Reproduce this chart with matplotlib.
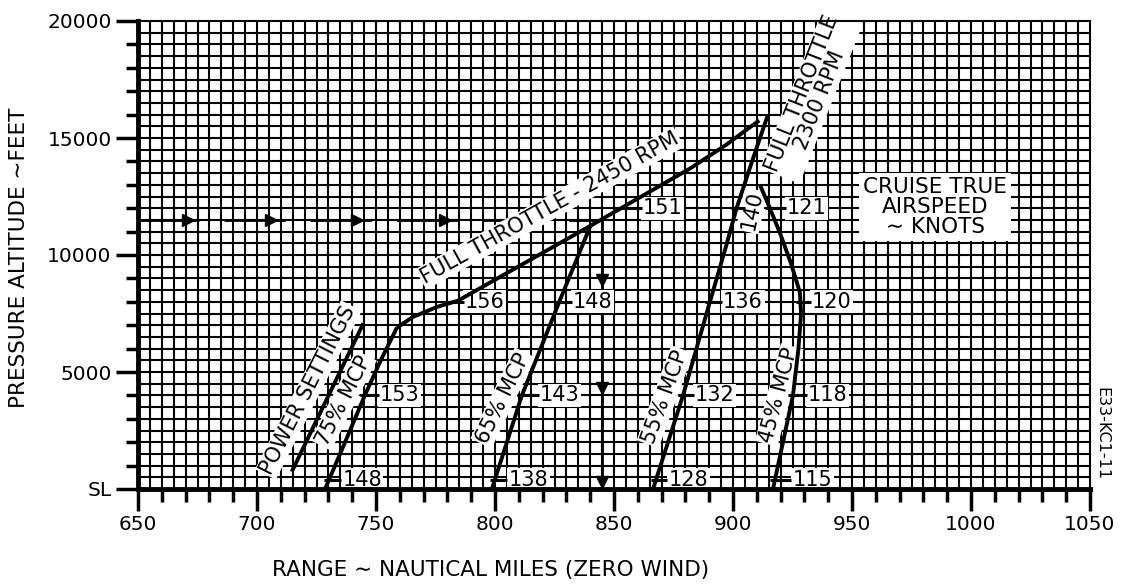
import matplotlib
matplotlib.use("Agg")
import matplotlib.pyplot as plt
import numpy as np

# range (nm) vs pressure altitude (ft)
mcp75_nm = [728.6, 737.0, 745.3, 752.0, 758.8]
mcp75_ft = [0, 2000, 4000, 5500, 6900]
ft2450_nm = [758.8, 765.5, 775.6, 784.5, 841.0, 882.0, 897.0, 911.0]
ft2450_ft = [6900, 7350, 7780, 8050, 11300, 13700, 14700, 15750]
mcp65_nm = [798.7, 811.3, 827.0, 840.5]
mcp65_ft = [0, 4000, 8000, 11350]
mcp55_nm = [866.4, 879.0, 890.3, 896.6, 901.5, 908.0, 914.7]
mcp55_ft = [0, 4000, 8000, 10200, 12000, 14000, 16000]
mcp45_nm = [916.8, 921.0, 925.2, 927.5, 928.6, 928.1, 924.5, 919.7, 915.5, 911.3]
mcp45_ft = [0, 2000, 4000, 6000, 7500, 8400, 9600, 10950, 12000, 13000]
power_nm = [714.6, 744.7]
power_ft = [740, 7080]

# cruise true airspeed marks (knots)
tas_alt = [380, 4000, 8000, 12000]
tas75 = [148, 153, 156, 151]
tas65 = [138, 143, 148]
tas55 = [128, 132, 136]
tas45 = [115, 118, 120, 121]

# example path
ex_nm = [650, 845, 845]
ex_ft = [11500, 11500, 0]
ex_heads_nm = [671, 706, 742, 779]
ex_heads_ft = [8950, 4300, 300]

x_ticks = [650, 700, 750, 800, 850, 900, 950, 1000, 1050]
y_ticks = [0, 5000, 10000, 15000, 20000]
y_labels = ["SL", "5000", "10000", "15000", "20000"]

plt.rcParams["font.family"] = ["DejaVu Sans"]
plt.rcParams["lines.scale_dashes"] = False

fig = plt.figure(figsize=(11.23, 5.88), dpi=100)
ax = fig.add_axes([138 / 1123, 99 / 588, 952 / 1123, 468 / 588])
ax.set_xlim(650, 1050)
ax.set_ylim(0, 20000)

# graph paper
ax.vlines(np.arange(655, 1050, 5), 0, 20000, color="k", lw=1.5, zorder=0.5)
ax.hlines(np.arange(500, 20000, 500), 650, 1050, color="k", lw=1.5, zorder=0.5)

ax.set_xticks(x_ticks)
ax.set_xticks(np.arange(650, 1051, 10), minor=True)
ax.set_yticks(y_ticks)
ax.set_yticklabels(y_labels)
ax.set_yticks(np.arange(0, 20001, 1000), minor=True)
ax.tick_params(which="major", length=16, width=2.5, labelsize=14.5, pad=3)
ax.tick_params(which="minor", length=9, width=2.5)
for s in ["left", "bottom"]:
    ax.spines[s].set_linewidth(3.5)
for s in ["top", "right"]:
    ax.spines[s].set_linewidth(1.5)
for s in ax.spines.values():
    s.set_zorder(8)

box = dict(boxstyle="square,pad=0.08", fc="white", ec="none")
lw = 2.8

# example arrows
ax.plot(ex_nm[:2], ex_ft[:2], color="k", lw=2, dashes=(44, 18), zorder=2)
ax.plot(ex_nm[1:], ex_ft[1:], color="k", lw=2, zorder=2)
ax.plot(ex_heads_nm, [ex_ft[0]] * len(ex_heads_nm), ">", color="k", ms=9, zorder=2)
ax.plot([ex_nm[1]] * len(ex_heads_ft), ex_heads_ft, "v", color="k", ms=9, zorder=2)

for nm, ft in [(mcp75_nm, mcp75_ft), (ft2450_nm, ft2450_ft), (mcp65_nm, mcp65_ft),
               (mcp55_nm, mcp55_ft), (mcp45_nm, mcp45_ft), (power_nm, power_ft)]:
    ax.plot(nm, ft, color="k", lw=lw, solid_capstyle="butt", zorder=6)


def speed_marks(curves, speeds, gaps):
    for (nm, ft), alt, v, gap in zip(curves, tas_alt, speeds, gaps):
        x = np.interp(alt, ft, nm)
        ax.hlines(alt, x - 2, x + gap - 0.5, color="k", lw=2.2, zorder=6)
        ax.text(x + gap, alt, str(v), ha="left", va="center", fontsize=15,
                bbox=box, zorder=5)


c75 = (mcp75_nm, mcp75_ft)
cft = (ft2450_nm, ft2450_ft)
speed_marks([c75, c75, cft, cft], tas75, [5.6, 6.4, 4.5, 9.2])
speed_marks([(mcp65_nm, mcp65_ft)] * 3, tas65, [5.7, 7.6, 5.8])
speed_marks([(mcp55_nm, mcp55_ft)] * 3, tas55, [5.2, 5.0, 5.5])
speed_marks([(mcp45_nm, mcp45_ft)] * 4, tas45, [7.3, 6.3, 4.8, 7.2])

# 140 kt mark written along the 55% line
ax.hlines(12000, 899, 905, color="k", lw=2.2, zorder=6)
ax.text(907.8, 11890, "140", rotation=78, ha="center", va="center",
        rotation_mode="anchor", fontsize=15, bbox=box, zorder=5)

labels = [
    ("FULL THROTTLE - 2450 RPM", 823, 12010, 29),
    ("FULL THROTTLE\n2300 RPM", 932.8, 16754, 68.4),
    ("POWER SETTINGS", 721.6, 4231, 63),
    ("75% MCP", 736.3, 3790, 63),
    ("65% MCP", 803.4, 3889, 64),
    ("55% MCP", 871.4, 3945, 70),
    ("45% MCP", 919.4, 4017, 75),
]
for t, x, y, r in labels:
    ax.text(x, y, t, rotation=r, rotation_mode="anchor", ha="center", va="center",
            ma="center", linespacing=0.95, fontsize=15, bbox=box, zorder=5)

ax.text(984.9, 12053, "CRUISE TRUE\nAIRSPEED\n\u223c KNOTS", ha="center", va="center",
        ma="center", linespacing=1.0, fontsize=15.5,
        bbox=dict(boxstyle="square,pad=0.2", fc="white", ec="none"), zorder=5)

fig.text(19.5 / 1123, 1 - 258 / 588, "PRESSURE ALTITUDE \u223cFEET", rotation=90,
         ha="center", va="center", fontsize=15.5)
fig.text(491 / 1123, 1 - 570 / 588, "RANGE \u223c NAUTICAL MILES (ZERO WIND)",
         ha="center", va="center", fontsize=15.5)
fig.text(1102 / 1123, 1 - 434 / 588, "E33-KC1-11", rotation=270,
         ha="center", va="center", fontsize=11.5)

fig.savefig("out.png", dpi=100, facecolor="white")
